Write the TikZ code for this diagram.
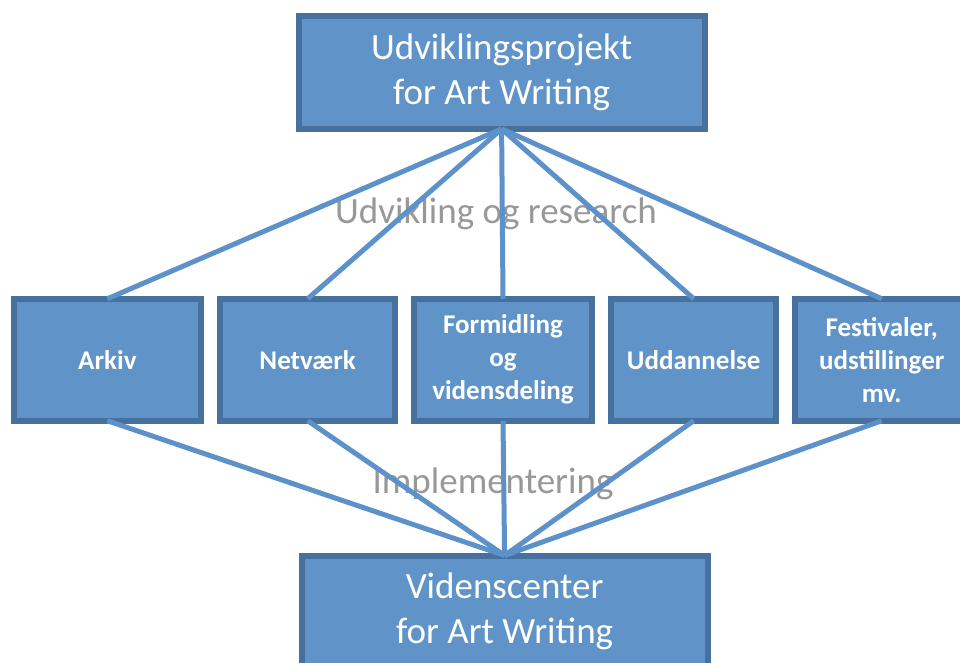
\documentclass[tikz,border=0pt]{standalone}
\usepackage{fontspec}
\setmainfont{Carlito}
\definecolor{boxfill}{RGB}{96,148,200}
\definecolor{boxline}{RGB}{70,112,158}
\definecolor{linkblue}{RGB}{92,146,201}
\definecolor{labelgray}{RGB}{152,152,152}
\begin{document}
\begin{tikzpicture}[x=1pt,y=1pt,yscale=-1,xscale=1,
  bigbox/.style={draw=boxline,fill=boxfill,line width=6pt,outer sep=0pt,inner sep=0pt,text=white,align=center,font=\fontsize{37}{45}\selectfont,minimum width=406pt,minimum height=112.5pt},
  smallbox/.style={draw=boxline,fill=boxfill,line width=6pt,outer sep=0pt,inner sep=0pt,text=white,align=center,font=\fontsize{27}{33}\selectfont\bfseries,minimum height=122pt},
  link/.style={draw=linkblue,line width=5pt},
  phase/.style={text=labelgray,font=\fontsize{37}{45}\selectfont,anchor=base}]
\useasboundingbox (0,0) rectangle (960,663);
\clip (0,0) rectangle (960,663);

%Text: phase labels
\node[phase] (research) at (496,223) {Udvikling og research};
\node[phase] (impl) at (493,493) {Implementering};

%Shape: Rectangle top
\node[bigbox] (proj) at (501.6,72.7) {Udviklingsprojekt\\for Art Writing};
%Shape: Rectangle row
\node[smallbox,minimum width=187pt] (arkiv) at (107.4,359.75) {Arkiv};
\node[smallbox,minimum width=175.5pt] (netv) at (307.7,359.75) {Netværk};
\node[smallbox,minimum width=178pt] (formid) at (503,359.75) {Formidling\\og\\vidensdeling};
\node[smallbox,minimum width=165pt] (uddan) at (693.7,359.75) {Uddannelse};
\node[smallbox,minimum width=173pt] (fest) at (881.7,359.75) {Festivaler,\\udstillinger\\mv.};
%Shape: Rectangle bottom
\node[bigbox] (viden) at (504.6,611.75) {Videnscenter\\for Art Writing};

%Straight Lines
\foreach \n in {arkiv,netv,formid,uddan,fest}{
  \draw[link] (proj.south) -- (\n.north);
  \draw[link] (\n.south) -- (viden.north);
}

\end{tikzpicture}
\end{document}
